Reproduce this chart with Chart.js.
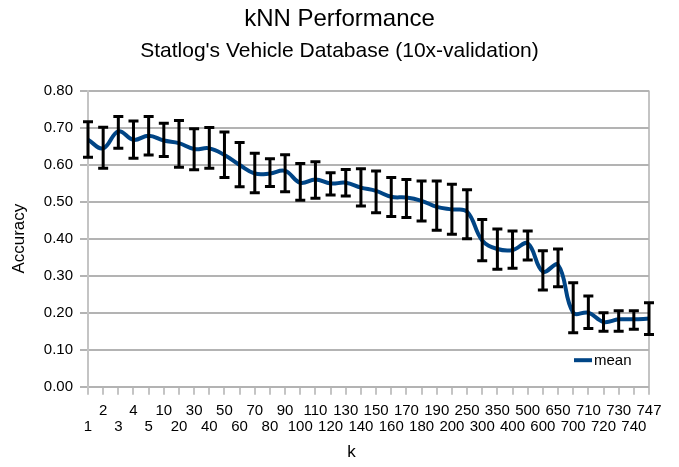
<!DOCTYPE html>
<html>
<head>
<meta charset="utf-8">
<script src="https://cdn.jsdelivr.net/npm/chart.js@4.4.1/dist/chart.umd.min.js"></script>
<style>
  html, body { margin: 0; padding: 0; background: #ffffff; }
  #wrap { width: 679px; height: 467px; }
</style>
</head>
<body>
<div id="wrap"><canvas id="c" width="679" height="467"></canvas></div>
<script>
// ---- data ----
const kValues = [1, 2, 3, 4, 5, 10, 20, 30, 40, 50, 60, 70, 80, 90, 100, 110, 120, 130, 140, 150,
                 160, 170, 180, 190, 200, 250, 300, 350, 400, 500, 600, 650, 700, 710, 720, 730, 740, 747];
const meanAcc = [0.667, 0.644, 0.690, 0.667, 0.678, 0.665, 0.658, 0.642, 0.644, 0.626, 0.599, 0.576,
                 0.576, 0.583, 0.551, 0.560, 0.549, 0.551, 0.538, 0.529, 0.513, 0.511, 0.502, 0.486,
                 0.479, 0.473, 0.395, 0.372, 0.369, 0.387, 0.311, 0.329, 0.200, 0.200, 0.175, 0.182,
                 0.182, 0.184];
const upperAcc = [0.716, 0.701, 0.730, 0.718, 0.730, 0.712, 0.719, 0.697, 0.700, 0.688, 0.660, 0.631,
                  0.616, 0.627, 0.603, 0.608, 0.578, 0.587, 0.589, 0.583, 0.565, 0.560, 0.556, 0.556,
                  0.547, 0.532, 0.452, 0.426, 0.421, 0.421, 0.367, 0.372, 0.281, 0.245, 0.200, 0.205,
                  0.205, 0.227];
const lowerAcc = [0.620, 0.590, 0.644, 0.617, 0.626, 0.622, 0.593, 0.586, 0.590, 0.565, 0.540, 0.524,
                  0.541, 0.527, 0.504, 0.509, 0.518, 0.515, 0.488, 0.470, 0.460, 0.457, 0.448, 0.423,
                  0.412, 0.400, 0.340, 0.317, 0.320, 0.342, 0.261, 0.270, 0.146, 0.157, 0.150, 0.150,
                  0.155, 0.141];
const yTicks = [0, 0.1, 0.2, 0.3, 0.4, 0.5, 0.6, 0.7, 0.8];
const seriesName = 'mean';
const titleText = 'kNN Performance';
const subtitleText = "Statlog's Vehicle Database (10x-validation)";
const xTitle = 'k';
const yTitle = 'Accuracy';

const FONT = "'Liberation Sans', Arial, sans-serif";
const GRID = '#b3b3b3';
const EDGE = '#c4c4c4';
const BLUE = '#004586';

const errorBars = {
  id: 'errorBars',
  afterDatasetsDraw(chart) {
    const ctx = chart.ctx, xs = chart.scales.x, ys = chart.scales.y;
    ctx.save();
    ctx.strokeStyle = '#000000';
    ctx.lineWidth = 3;
    ctx.lineCap = 'butt';
    for (let i = 0; i < kValues.length; i++) {
      const x = xs.getPixelForValue(i);
      const yt = ys.getPixelForValue(upperAcc[i]);
      const yb = ys.getPixelForValue(lowerAcc[i]);
      ctx.beginPath();
      ctx.moveTo(x, yt); ctx.lineTo(x, yb);
      ctx.moveTo(x - 5, yt); ctx.lineTo(x + 5, yt);
      ctx.moveTo(x - 5, yb); ctx.lineTo(x + 5, yb);
      ctx.stroke();
    }
    ctx.restore();
  }
};

// legend drawn inside the plot area (bottom right) and the x-axis title,
// centred on the whole diagram (axis labels included) as in the reference
const extras = {
  id: 'extras',
  afterDraw(chart) {
    const ctx = chart.ctx, a = chart.chartArea;
    const ds = chart.data.datasets[0];
    const y = a.bottom - 26.5;
    const x0 = a.right - 75;
    ctx.save();
    ctx.strokeStyle = ds.borderColor;
    ctx.lineWidth = 4;
    ctx.beginPath();
    ctx.moveTo(x0, y); ctx.lineTo(x0 + 18, y);
    ctx.stroke();
    ctx.fillStyle = '#000';
    ctx.font = '15px ' + FONT;
    ctx.textBaseline = 'middle';
    ctx.textAlign = 'left';
    ctx.fillText(ds.label, x0 + 20, y + 1);

    ctx.font = '17px ' + FONT;
    ctx.textAlign = 'center';
    ctx.fillText(xTitle, ((a.left - 45) + (a.right + 11)) / 2, 452);
    ctx.restore();
  }
};

new Chart(document.getElementById('c'), {
  type: 'line',
  data: {
    labels: kValues.map(String),
    datasets: [{
      label: seriesName,
      data: meanAcc,
      borderColor: BLUE,
      backgroundColor: BLUE,
      borderWidth: 4,
      pointRadius: 0,
      tension: 0.4,
      fill: false
    }]
  },
  options: {
    responsive: false,
    animation: false,
    layout: { padding: { left: 9, right: 9, top: 0, bottom: 0 } },
    plugins: {
      legend: { display: false },
      tooltip: { enabled: false },
      title: {
        display: true, text: titleText, color: '#000',
        font: { family: FONT, size: 24, weight: 'normal', lineHeight: 1.2 },
        padding: { top: 5, bottom: 4.6 }
      },
      subtitle: {
        display: true, text: subtitleText, color: '#000',
        font: { family: FONT, size: 21, weight: 'normal', lineHeight: 1.2 },
        padding: { top: 0, bottom: 27 }
      }
    },
    scales: {
      x: {
        type: 'category',
        offset: false,
        afterFit: (s) => { s.height = 80.3; },
        grid: {
          drawOnChartArea: true,
          color: (c) => (c.index === 0 || c.index === kValues.length - 1) ? EDGE : 'rgba(0,0,0,0)',
          tickColor: EDGE,
          lineWidth: 2,
          tickLength: 8
        },
        border: { display: false },
        ticks: {
          autoSkip: false, maxRotation: 0, minRotation: 0,
          color: '#000', padding: 8.3,
          font: { family: FONT, size: 15, lineHeight: 1.07 },
          callback: (v, i) => (i % 2 === 0) ? ['', kValues[i]] : [kValues[i], '']
        },
        title: { display: false, text: xTitle }
      },
      y: {
        min: 0, max: 0.8,
        afterFit: (s) => { s.width = 79; },
        afterBuildTicks: (s) => { s.ticks = yTicks.map(v => ({ value: v })); },
        grid: { color: GRID, lineWidth: 2, tickLength: 8 },
        border: { color: EDGE, width: 2 },
        ticks: {
          color: '#000', padding: 7,
          font: { family: FONT, size: 15 },
          callback: (v) => Number(v).toFixed(2)
        },
        title: {
          display: true, text: yTitle, color: '#000',
          font: { family: FONT, size: 17, lineHeight: 1.2 },
          padding: { top: 0, bottom: 0 }
        }
      },
      yRight: {
        position: 'right',
        min: 0, max: 0.8,
        afterFit: (s) => { s.width = 21; },
        grid: { display: false },
        border: { display: false },
        ticks: { display: false }
      }
    }
  },
  plugins: [errorBars, extras]
});
</script>
</body>
</html>
